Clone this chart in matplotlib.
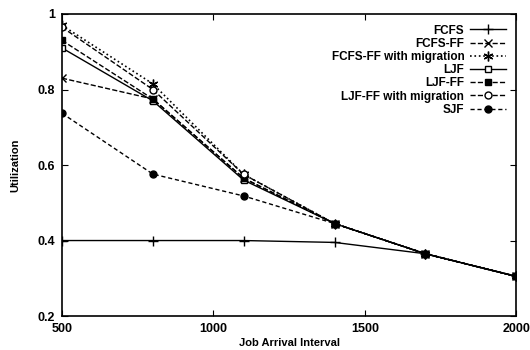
import matplotlib.pyplot as plt

plt.rcParams['font.family'] = ['Liberation Sans', 'DejaVu Sans']

x = [500, 800, 1100, 1400, 1700, 2000]
fcfs = [0.40, 0.40, 0.40, 0.395, 0.365, 0.305]
fcfs_ff = [0.83, 0.775, 0.565, 0.445, 0.365, 0.305]
fcfs_ff_mig = [0.97, 0.815, 0.575, 0.445, 0.365, 0.305]
ljf = [0.91, 0.77, 0.56, 0.445, 0.365, 0.305]
ljf_ff = [0.93, 0.775, 0.565, 0.445, 0.365, 0.305]
ljf_ff_mig = [0.965, 0.80, 0.575, 0.445, 0.365, 0.305]
sjf = [0.737, 0.576, 0.518, 0.445, 0.365, 0.305]

fig = plt.figure(figsize=(5.3, 3.5), dpi=100)
ax = fig.add_axes([0.117, 0.097, 0.857, 0.863])

ax.plot(x, fcfs, 'k-', marker='+', ms=7, lw=1, label='FCFS')
ax.plot(x, fcfs_ff, 'k--', marker='x', ms=6, lw=1, label='FCFS-FF')
ax.plot(x, fcfs_ff_mig, 'k:', marker=(6, 2, 0), ms=7, lw=1.2, label='FCFS-FF with migration')
ax.plot(x, ljf, 'k-', marker='s', ms=5, mfc='white', lw=1, label='LJF')
ax.plot(x, ljf_ff, 'k--', marker='s', ms=5, lw=1, label='LJF-FF')
ax.plot(x, ljf_ff_mig, 'k--', marker='o', ms=5, mfc='white', lw=1, label='LJF-FF with migration')
ax.plot(x, sjf, 'k--', marker='o', ms=5, lw=1, label='SJF', dashes=(3, 2))

ax.set_xlim(500, 2000)
ax.set_ylim(0.2, 1)
ax.set_xticks([500, 1000, 1500, 2000])
ax.set_yticks([0.2, 0.4, 0.6, 0.8, 1])
ax.set_yticklabels(['0.2', '0.4', '0.6', '0.8', '1'])
ax.tick_params(direction='in', top=True, right=True, labelsize=9, length=4, pad=5)
for lab in ax.get_xticklabels() + ax.get_yticklabels():
    lab.set_fontweight('bold')
for s in ax.spines.values():
    s.set_linewidth(1.2)

ax.set_xlabel('Job Arrival Interval', fontsize=8, fontweight='bold', labelpad=2)
ax.set_ylabel('Utilization', fontsize=8, fontweight='bold', labelpad=12)

leg = ax.legend(loc='upper right', frameon=False, markerfirst=False, fontsize=8.5,
                handlelength=3, labelspacing=0.1, borderaxespad=0.5, handletextpad=0.5)
for t in leg.get_texts():
    t.set_fontweight('bold')

fig.savefig('out.png', dpi=100)
